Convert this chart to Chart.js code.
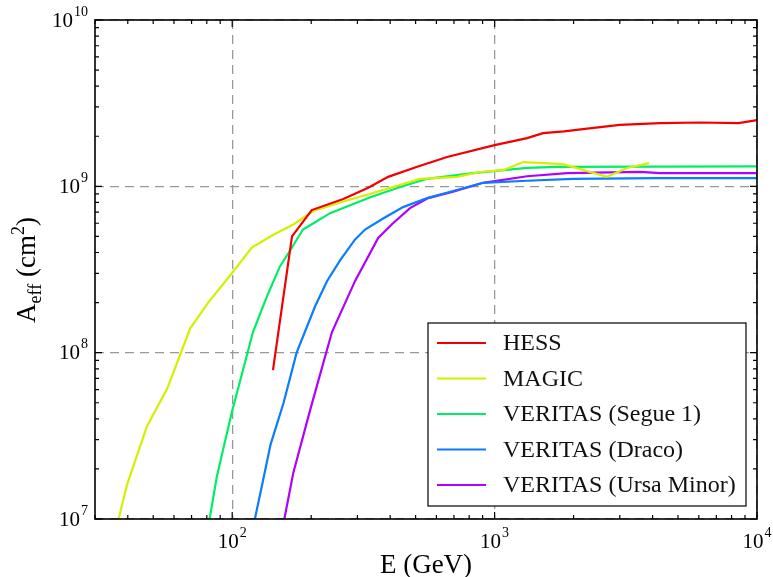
<!DOCTYPE html>
<html>
<head>
<meta charset="utf-8">
<script src="https://cdn.jsdelivr.net/npm/chart.js@4.4.1/dist/chart.umd.min.js"></script>
<style>
  html, body { margin: 0; padding: 0; background: #fff; }
  #wrap { width: 773px; height: 577px; }
</style>
</head>
<body>
<div id="wrap"><canvas id="chart" width="773" height="577"></canvas></div>
<script>
// effective area curves (E in GeV, A in cm^2)
const hessE = [143, 169, 201, 265, 330, 393, 507, 659, 1000, 1330, 1530, 1840, 2170, 3000, 4270, 6070, 8500, 10000];
const hessA = [7.85e7, 5.0e8, 7.2e8, 8.4e8, 9.8e8, 1.14e9, 1.31e9, 1.5e9, 1.77e9, 1.95e9, 2.09e9, 2.14e9, 2.21e9, 2.34e9, 2.4e9, 2.42e9, 2.4e9, 2.5e9];

const magicE = [36.9, 39.7, 47.3, 56.6, 69.2, 81, 99.7, 119, 143, 171, 204, 258, 326, 410, 520, 719, 881, 1077, 1285, 1820, 2680, 3200, 3880];
const magicA = [1e7, 1.6e7, 3.6e7, 6.1e7, 1.4e8, 2.0e8, 3.0e8, 4.3e8, 5.1e8, 5.9e8, 7.1e8, 8.0e8, 8.9e8, 9.9e8, 1.11e9, 1.14e9, 1.22e9, 1.25e9, 1.4e9, 1.36e9, 1.14e9, 1.29e9, 1.38e9];

const segueE = [82, 87.4, 99.7, 110, 120, 136, 152, 166, 186, 204, 236, 336, 437, 553, 828, 1330, 1730, 10000];
const segueA = [1e7, 1.8e7, 4.4e7, 7.9e7, 1.33e8, 2.2e8, 3.3e8, 4.1e8, 5.5e8, 6.0e8, 6.9e8, 8.6e8, 9.9e8, 1.11e9, 1.2e9, 1.29e9, 1.31e9, 1.32e9];

const dracoE = [122, 131, 140, 157, 176, 207, 230, 258, 294, 321, 376, 448, 553, 719, 904, 1330, 1990, 4150, 10000];
const dracoA = [1e7, 1.7e7, 2.8e7, 5.0e7, 1.0e8, 1.9e8, 2.7e8, 3.6e8, 4.8e8, 5.5e8, 6.4e8, 7.5e8, 8.5e8, 9.5e8, 1.05e9, 1.08e9, 1.11e9, 1.12e9, 1.12e9];

const ursaE = [158, 171, 198, 240, 294, 360, 410, 476, 558, 695, 904, 1330, 1890, 3580, 4270, 10000];
const ursaA = [1e7, 1.9e7, 4.5e7, 1.33e8, 2.7e8, 4.9e8, 6.0e8, 7.4e8, 8.5e8, 9.3e8, 1.05e9, 1.15e9, 1.2e9, 1.22e9, 1.2e9, 1.2e9];

const seriesNames = ['HESS', 'MAGIC', 'VERITAS (Segue 1)', 'VERITAS (Draco)', 'VERITAS (Ursa Minor)'];
const seriesColors = ['#f20000', '#d4f000', '#00ee66', '#0a7dff', '#b000ff'];

const xDecades = [2, 3, 4];
const yDecades = [7, 8, 9, 10];

const SERIF = '"Liberation Serif", "DejaVu Serif", serif';

function pts(xs, ys) {
    return xs.map((x, i) => ({ x: x, y: ys[i] }));
}

const allSeries = [
    pts(hessE, hessA), pts(magicE, magicA), pts(segueE, segueA), pts(dracoE, dracoA), pts(ursaE, ursaA)
];

function isDecade(v) {
    const l = Math.log10(v);
    return Math.abs(l - Math.round(l)) < 1e-6;
}

// 10^n label with a raised exponent
function drawPow(ctx, x, y, exp, align) {
    ctx.font = '21px ' + SERIF;
    const w1 = ctx.measureText('10').width;
    ctx.font = '14px ' + SERIF;
    const w2 = ctx.measureText(String(exp)).width;
    let start = align === 'right' ? x - w1 - w2 - 1 : x - (w1 + w2 + 1) / 2;
    ctx.textAlign = 'left';
    ctx.textBaseline = 'middle';
    ctx.font = '21px ' + SERIF;
    ctx.fillText('10', start, y);
    ctx.font = '14px ' + SERIF;
    ctx.fillText(String(exp), start + w1 + 1, y - 9);
}

const framePlugin = {
    id: 'frame',
    afterDraw(chart) {
        const ctx = chart.ctx;
        const a = chart.chartArea;
        const xs = chart.scales.x, ys = chart.scales.y;
        ctx.save();
        ctx.strokeStyle = '#000';
        ctx.fillStyle = '#000';

        // inward ticks on all four sides
        ctx.lineWidth = 1.2;
        ctx.beginPath();
        for (let d = 1; d <= 4; d++) {
            for (let m = 1; m <= 9; m++) {
                const v = m * Math.pow(10, d);
                if (v < xs.min || v > xs.max) continue;
                const px = xs.getPixelForValue(v);
                const len = m === 1 ? 7 : 4;
                ctx.moveTo(px, a.bottom); ctx.lineTo(px, a.bottom - len);
                ctx.moveTo(px, a.top); ctx.lineTo(px, a.top + len);
            }
        }
        for (let d = 7; d <= 10; d++) {
            for (let m = 1; m <= 9; m++) {
                const v = m * Math.pow(10, d);
                if (v < ys.min || v > ys.max) continue;
                const py = ys.getPixelForValue(v);
                const len = m === 1 ? 7 : 4;
                ctx.moveTo(a.left, py); ctx.lineTo(a.left + len, py);
                ctx.moveTo(a.right, py); ctx.lineTo(a.right - len, py);
            }
        }
        ctx.stroke();

        ctx.lineWidth = 1.6;
        ctx.strokeRect(a.left, a.top, a.right - a.left, a.bottom - a.top);

        // tick labels
        xDecades.forEach(e => drawPow(ctx, xs.getPixelForValue(Math.pow(10, e)), a.bottom + 23, e, 'center'));
        yDecades.forEach(e => drawPow(ctx, a.left - 7, ys.getPixelForValue(Math.pow(10, e)) + 1, e, 'right'));

        // axis titles
        ctx.textBaseline = 'alphabetic';
        ctx.textAlign = 'center';
        ctx.font = '27px ' + SERIF;
        ctx.fillText('E (GeV)', (a.left + a.right) / 2, 573);

        ctx.save();
        ctx.translate(35, 270);
        ctx.rotate(-Math.PI / 2);
        const parts = [
            { t: 'A', f: 27, dy: 0 },
            { t: 'eff', f: 18, dy: 6 },
            { t: ' (cm', f: 27, dy: 0 },
            { t: '2', f: 18, dy: -11 },
            { t: ')', f: 27, dy: 0 }
        ];
        let total = 0;
        parts.forEach(p => { ctx.font = p.f + 'px ' + SERIF; p.w = ctx.measureText(p.t).width; total += p.w; });
        let cx = -total / 2;
        ctx.textAlign = 'left';
        parts.forEach(p => { ctx.font = p.f + 'px ' + SERIF; ctx.fillText(p.t, cx, p.dy); cx += p.w; });
        ctx.restore();

        // legend box
        const lx = 428, ly = 323, lw = 318, lh = 183;
        ctx.fillStyle = '#fff';
        ctx.fillRect(lx, ly, lw, lh);
        ctx.lineWidth = 1.2;
        ctx.strokeStyle = '#000';
        ctx.strokeRect(lx, ly, lw, lh);
        ctx.font = '24px ' + SERIF;
        ctx.textAlign = 'left';
        ctx.textBaseline = 'middle';
        chart.data.datasets.forEach((ds, i) => {
            const y = ly + 20 + i * 35.5;
            ctx.strokeStyle = ds.borderColor;
            ctx.lineWidth = 2;
            ctx.beginPath();
            ctx.moveTo(lx + 9, y); ctx.lineTo(lx + 58, y);
            ctx.stroke();
            ctx.fillStyle = '#111';
            ctx.fillText(ds.label, lx + 75, y + 1);
        });
        ctx.restore();
    }
};

const gridStyle = {
    drawTicks: false,
    lineWidth: 1.3,
    color: c => (c.tick && isDecade(c.tick.value)) ? '#999' : 'rgba(0,0,0,0)'
};

new Chart(document.getElementById('chart').getContext('2d'), {
    type: 'scatter',
    data: {
        datasets: allSeries.map((d, i) => ({
            label: seriesNames[i],
            data: d,
            showLine: true,
            borderColor: seriesColors[i],
            backgroundColor: seriesColors[i],
            borderWidth: 2.2,
            pointRadius: 0,
            tension: 0
        }))
    },
    options: {
        responsive: false,
        animation: false,
        layout: { padding: { left: 95, top: 20, right: 16, bottom: 58 } },
        plugins: { legend: { display: false }, tooltip: { enabled: false } },
        scales: {
            x: {
                type: 'logarithmic',
                min: 30,
                max: 10000,
                border: { display: false, dash: [9, 6] },
                grid: gridStyle,
                ticks: { display: false }
            },
            y: {
                type: 'logarithmic',
                min: 1e7,
                max: 1e10,
                border: { display: false, dash: [9, 6] },
                grid: gridStyle,
                ticks: { display: false }
            }
        }
    },
    plugins: [framePlugin]
});
</script>
</body>
</html>
